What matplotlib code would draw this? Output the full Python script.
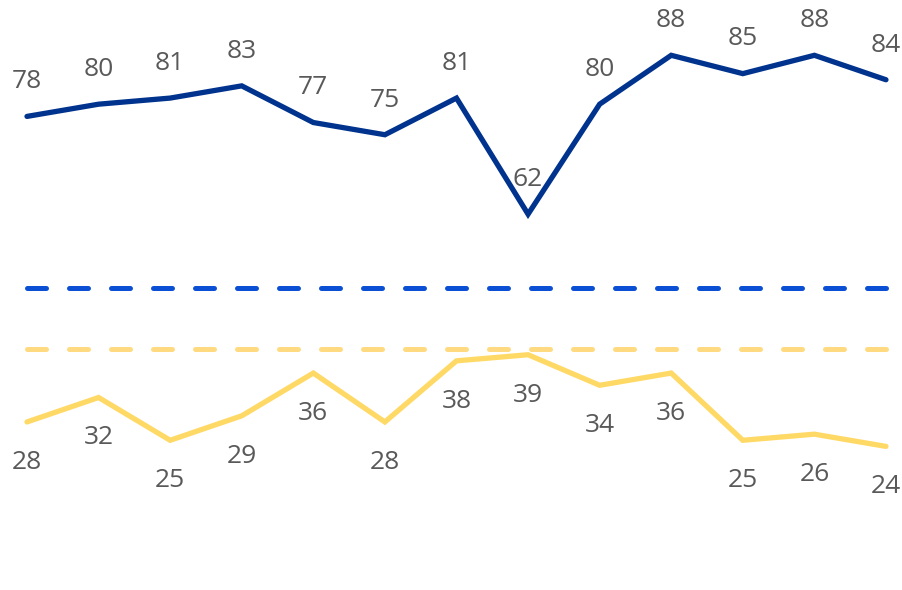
import matplotlib.pyplot as plt

top_series = [78, 80, 81, 83, 77, 75, 81, 62, 80, 88, 85, 88, 84]
bottom_series = [28, 32, 25, 29, 36, 28, 38, 39, 34, 36, 25, 26, 24]
top_ref = 50
bottom_ref = 40

x = list(range(len(top_series)))

fig = plt.figure(figsize=(9.02, 5.90), dpi=100)
ax = fig.add_axes([0, 0, 1, 1])

navy = "#00338D"
bright_blue = "#0A4FD4"
yellow = "#FFD966"
text_gray = "#595959"

ax.plot([x[0], x[-1]], [top_ref, top_ref], color=bright_blue, lw=3.6,
        linestyle=(0, (3.8, 4.6)), dash_capstyle="round")
ax.plot([x[0], x[-1]], [bottom_ref, bottom_ref], color="#FFDA80", lw=3.6,
        linestyle=(0, (3.8, 4.6)), dash_capstyle="round")

ax.plot(x, top_series, color=navy, lw=3.8, solid_capstyle="round", solid_joinstyle="miter")
ax.plot(x, bottom_series, color=yellow, lw=3.8, solid_capstyle="round", solid_joinstyle="miter")

for xi, v in zip(x, top_series):
    ax.annotate(str(v), (xi, v), xytext=(0, 25), textcoords="offset points",
                ha="center", va="center", fontsize=19, color=text_gray,
                family="Open Sans")
for xi, v in zip(x, bottom_series):
    ax.annotate(str(v), (xi, v), xytext=(0, -29), textcoords="offset points",
                ha="center", va="center", fontsize=19, color=text_gray,
                family="Open Sans")

ax.set_xlim(-0.377, 12.224)
ax.set_ylim(0.5, 97.05)
ax.axis("off")

fig.savefig("out.png", dpi=100)
